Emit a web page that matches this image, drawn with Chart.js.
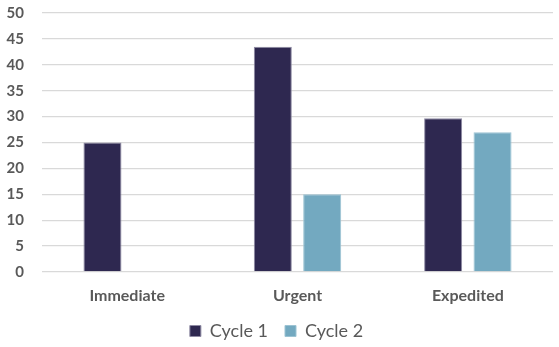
<!DOCTYPE html>
<html>
<head>
<meta charset="utf-8">
<script src="https://cdn.jsdelivr.net/npm/chart.js@4/dist/chart.umd.min.js"></script>
<style>
  html, body { margin: 0; padding: 0; background: #fff; }
  #wrap { width: 559px; height: 347px; }
</style>
</head>
<body>
<div id="wrap"><canvas id="cycleChart"></canvas></div>
<script>
const categories = ["Immediate", "Urgent", "Expedited"];
const cycle1 = [25, 43.5, 29.7];
const cycle2 = [null, 15, 27];
const yTicks = [0, 5, 10, 15, 20, 25, 30, 35, 40, 45, 50];

const textGrey = "#595959";
const fontFamily = "Lato, 'Open Sans', sans-serif";

new Chart(document.getElementById("cycleChart"), {
  type: "bar",
  data: {
    labels: categories,
    datasets: [
      {
        label: "Cycle 1",
        data: cycle1,
        backgroundColor: "#2e2850",
        borderColor: "#8e8aa3",
        borderWidth: 1
      },
      {
        label: "Cycle 2",
        data: cycle2,
        backgroundColor: "#73a9c0",
        borderColor: "#9cc3d3",
        borderWidth: 1
      }
    ]
  },
  options: {
    responsive: true,
    maintainAspectRatio: false,
    animation: false,
    datasets: {
      bar: { categoryPercentage: 0.58, barPercentage: 0.77 }
    },
    layout: { padding: { left: 0, right: 6, top: 13, bottom: -3 } },
    plugins: {
      tooltip: { enabled: false },
      legend: {
        position: "bottom",
        labels: {
          color: textGrey,
          boxWidth: 11,
          boxHeight: 11,
          padding: 17,
          font: { family: fontFamily, size: 18 }
        }
      }
    },
    scales: {
      x: {
        afterFit: axis => {
          axis.height = 33;
        },
        grid: { display: false },
        border: { display: false },
        ticks: {
          color: textGrey,
          padding: 6,
          font: { family: fontFamily, size: 16, weight: "bold" }
        }
      },
      y: {
        min: 0,
        max: 50,
        afterBuildTicks: axis => {
          axis.ticks = yTicks.map(v => ({ value: v }));
        },
        afterFit: axis => {
          // fixed gutter for the value labels, no extra top/bottom overhang
          axis.width = 42;
          axis.paddingTop = 0;
          axis.paddingBottom = 0;
        },
        grid: { color: "#d9d9d9", drawTicks: false, lineWidth: 1.3 },
        border: { display: false },
        ticks: {
          color: textGrey,
          padding: 18,
          font: { family: fontFamily, size: 15, weight: "bold" }
        }
      }
    }
  }
});
</script>
</body>
</html>
